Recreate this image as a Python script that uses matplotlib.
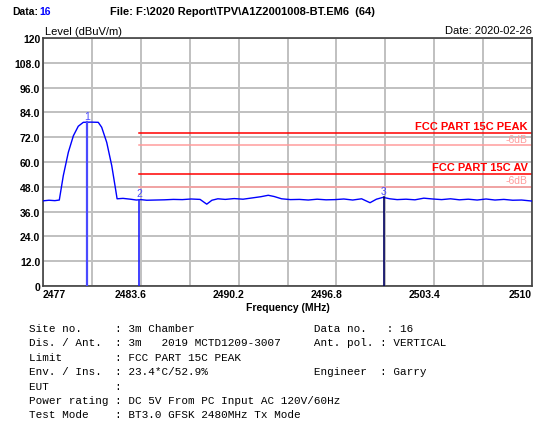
import matplotlib
matplotlib.use('Agg')
import matplotlib.pyplot as plt
import matplotlib.transforms as mtransforms

plt.rcParams['font.family'] = 'Liberation Sans'

# measured trace (MHz, dBuV/m)
freq = [2477.0, 2477.4, 2477.8, 2478.1, 2478.37, 2478.71, 2479.05, 2479.38, 2479.72, 2480.2,
        2480.73, 2480.96, 2481.30, 2481.64, 2481.86, 2482.0, 2482.4, 2482.9, 2483.3, 2483.6,
        2484.0, 2484.6, 2485.2, 2485.8, 2486.4, 2487.0, 2487.6, 2488.05, 2488.4, 2488.8,
        2489.3, 2489.9, 2490.5, 2491.1, 2491.7, 2492.2, 2492.6, 2493.1, 2493.7, 2494.3,
        2494.9, 2495.5, 2496.1, 2496.7, 2497.3, 2497.9, 2498.5, 2499.07, 2499.5, 2499.95,
        2500.4, 2500.9, 2501.5, 2502.1, 2502.7, 2503.3, 2503.9, 2504.5, 2505.1, 2505.7,
        2506.3, 2506.9, 2507.5, 2508.1, 2508.7, 2509.3, 2510.0]
level = [41.2, 41.5, 41.3, 41.6, 53.4, 64.7, 72.7, 77.3, 79.2, 79.3,
         79.2, 76.8, 69.5, 58.2, 48.5, 42.2, 42.4, 42.0, 41.6, 41.8,
         41.5, 41.6, 41.7, 41.9, 41.8, 42.1, 41.9, 39.6, 41.5, 42.2,
         41.9, 42.3, 42.0, 42.6, 43.2, 43.9, 43.3, 42.2, 41.8, 41.9,
         41.6, 42.0, 41.7, 41.8, 42.1, 41.6, 42.2, 40.3, 42.0, 42.9,
         42.2, 41.8, 42.0, 41.7, 42.5, 42.1, 41.8, 42.2, 41.7, 42.0,
         41.6, 42.1, 41.6, 41.9, 41.5, 41.6, 41.1]

marker_freq = [2480.0, 2483.5, 2500.0]
marker_level = [79.2, 41.8, 42.9]
marker_names = ['1', '2', '3']
marker_colors = ['#4a4aff', '#2020ff', '#000060']

limit_names = ['FCC PART 15C PEAK', 'FCC PART 15C AV']
limit_levels = [74, 54]
limit_start = 2483.5
margin_db = 6

xticks = [2477, 2483.6, 2490.2, 2496.8, 2503.4, 2510]
xgrid = [2477 + 3.3 * i for i in range(11)]
yticks = [0, 12, 24, 36, 48, 60, 72, 84, 96, 108, 120]
ylabels = ['0', '12.0', '24.0', '36.0', '48.0', '60.0', '72.0', '84.0', '96.0', '108.0', '120']

info_lines = [
    'Site no.     : 3m Chamber                  Data no.   : 16',
    'Dis. / Ant.  : 3m   2019 MCTD1209-3007     Ant. pol. : VERTICAL',
    'Limit        : FCC PART 15C PEAK',
    'Env. / Ins.  : 23.4*C/52.9%                Engineer  : Garry',
    'EUT          :',
    'Power rating : DC 5V From PC Input AC 120V/60Hz',
    'Test Mode    : BT3.0 GFSK 2480MHz Tx Mode',
]

fig = plt.figure(figsize=(5.47, 4.27), dpi=100)
ax = fig.add_axes([43 / 547, 1 - 287 / 427, 489 / 547, 248 / 427])

for x in xgrid:
    ax.axvline(x, color='#c0c0c0', lw=1.4, zorder=0)
for y in yticks:
    ax.axhline(y, color='#c0c0c0', lw=1.4, zorder=0)

for lim, name in zip(limit_levels, limit_names):
    ax.plot([limit_start, 2510], [lim, lim], color='#ff0000', lw=1.1, zorder=2)
    ax.plot([limit_start, 2510], [lim - margin_db, lim - margin_db], color='#ff9c9c', lw=1.1, zorder=2)
    ax.text(2509.7, lim + 1.2, name, color='#ff0000', fontsize=8, fontweight='bold',
            ha='right', va='bottom')
    ax.text(2509.7, lim - margin_db + 0.8, '-6dB', color='#ff9c9c', fontsize=7.5,
            ha='right', va='bottom')

ax.plot(freq, level, color='#0000ff', lw=1.0, zorder=3)

for f, l, n, c in zip(marker_freq, marker_level, marker_names, marker_colors):
    ax.plot([f, f], [0, l], color=c, lw=1.6 if n == '1' else 1.2, zorder=4)
    ax.text(f, l + 0.8, n, color='#4a4aff', fontsize=7.5, ha='center', va='bottom')

ax.set_xlim(2477, 2510)
ax.set_ylim(0, 120)
ax.set_xticks(xticks)
ax.set_xticklabels([f'{t:g}' for t in xticks], fontsize=7.5, fontweight='bold')
ax.set_yticks(yticks)
ax.set_yticklabels(ylabels, fontsize=7.5, fontweight='bold')
ax.tick_params(length=0, pad=2)
labels = ax.get_xticklabels()
labels[0].set_ha('left')
labels[-1].set_ha('right')
shift = mtransforms.ScaledTranslation(-10 / 100, 0, fig.dpi_scale_trans)
for lab in labels[1:-1]:
    lab.set_transform(lab.get_transform() + shift)
for s in ax.spines.values():
    s.set_color('#404040')
    s.set_linewidth(1.2)

ax.set_xlabel('Frequency (MHz)', fontsize=7.5, fontweight='bold', labelpad=2)

fig.text(12 / 547, 1 - 12 / 427, 'Data:', fontsize=7.5, fontweight='bold', va='center')
fig.text(39 / 547, 1 - 12 / 427, '16', fontsize=7.5, fontweight='bold', color='#0000ff', va='center')
fig.text(110 / 547, 1 - 12 / 427, 'File: F:\\2020 Report\\TPV\\A1Z2001008-BT.EM6  (64)',
         fontsize=8, fontweight='bold', va='center')
fig.text(45 / 547, 1 - 32 / 427, 'Level (dBuV/m)', fontsize=8, va='center')
fig.text(532 / 547, 1 - 31 / 427, 'Date: 2020-02-26', fontsize=8,
         ha='right', va='center')

for i, line in enumerate(info_lines):
    fig.text(29 / 547, 1 - (329 + 14.4 * i) / 427, line, fontsize=7.9,
             family='Liberation Mono', va='center')

fig.savefig('out.png', dpi=100)
